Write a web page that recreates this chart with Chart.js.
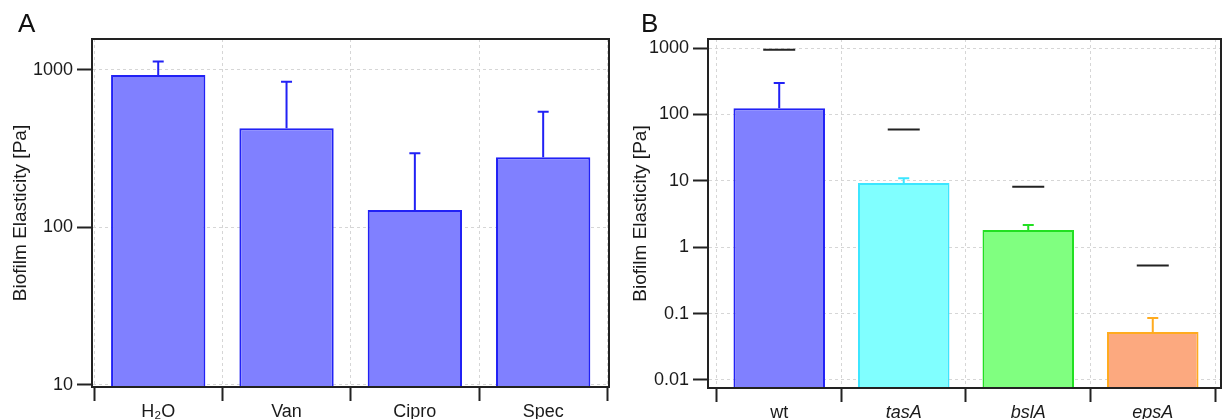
<!DOCTYPE html>
<html>
<head>
<meta charset="utf-8">
<title>Biofilm Elasticity</title>
<script src="https://cdn.jsdelivr.net/npm/chart.js@4.4.1/dist/chart.umd.min.js"></script>
<style>
  body { margin: 0; background: #fff; }
  #wrap { position: relative; width: 1222px; height: 419px; overflow: hidden; }
  .panel { position: absolute; top: 0; }
  .tag { position: absolute; top: 10px; font: 26px 'Liberation Sans', Arial, sans-serif; line-height: 1; color: #111; }
</style>
</head>
<body>
<div id="wrap">
  <canvas id="chartA" class="panel" style="left:0" width="615" height="419"></canvas>
  <canvas id="chartB" class="panel" style="left:615px" width="607" height="419"></canvas>
  <div class="tag" style="left:18px">A</div>
  <div class="tag" style="left:641px">B</div>
</div>
<script>
// panel A - antibiotic treatments
const labelsA = ['H\u2082O', 'Van', 'Cipro', 'Spec'];
const elasticityA = [930, 427, 129, 279];
const errorTopA = [1134, 842, 296, 542];
const yTicksA = [10, 100, 1000];

// panel B - mutants
const labelsB = ['wt', 'tasA', 'bslA', 'epsA'];
const elasticityB = [124, 9.3, 1.82, 0.0526];
const errorTopB = [297, 10.9, 2.16, 0.0855];
const markerB = [940, 59, 8.1, 0.53];   // black dashes above the bars
const yTicksB = [0.01, 0.1, 1, 10, 100, 1000];

const fillA = ['#8080ff', '#8080ff', '#8080ff', '#8080ff'];
const edgeA = ['#2121f5', '#2121f5', '#2121f5', '#2121f5'];
const fillB = ['#8080ff', '#80ffff', '#80ff80', '#fca97f'];
const edgeB = ['#2121f5', '#3ce6ff', '#22e022', '#ffab1f'];

Chart.defaults.font.family = "'Liberation Sans', Arial, sans-serif";
Chart.defaults.font.size = 18;
Chart.defaults.color = '#1a1a1a';

const GRID = '#d6d6d6';
const INK = '#222';

// error bars (upper half only) drawn through the chart scales
function errorBarPlugin(tops, colors) {
    return {
        id: 'errorBars',
        afterDatasetsDraw(chart) {
            const { ctx, scales: { x, y } } = chart;
            const bars = chart.data.datasets[0].data;
            ctx.save();
            ctx.lineWidth = 2;
            tops.forEach((top, i) => {
                const px = x.getPixelForValue(bars[i].x);
                const y0 = y.getPixelForValue(bars[i].y);
                const y1 = y.getPixelForValue(top);
                ctx.strokeStyle = colors[i];
                ctx.beginPath();
                ctx.moveTo(px, y0); ctx.lineTo(px, y1);
                ctx.moveTo(px - 5.5, y1); ctx.lineTo(px + 5.5, y1);
                ctx.stroke();
            });
            ctx.restore();
        }
    };
}

// closed box round the plot area
const framePlugin = {
    id: 'frame',
    afterDraw(chart) {
        const { ctx, chartArea: a } = chart;
        ctx.save();
        ctx.strokeStyle = INK;
        ctx.lineWidth = 2;
        ctx.strokeRect(a.left, a.top, a.right - a.left, a.bottom - a.top);
        ctx.restore();
    }
};

function isCenter(c) {
    return c.tick && Number.isInteger(c.tick.value);
}

function buildChart(id, p) {
    const barData = p.labels.map((_, i) => ({ x: i, y: p.values[i] }));
    const datasets = [{
        type: 'bar',
        data: barData,
        backgroundColor: p.fill,
        borderColor: p.edge,
        borderWidth: 2,
        borderSkipped: 'bottom',
        // the ruler uses the half-step ticks, so one category = 2 steps
        categoryPercentage: 2,
        barPercentage: 0.735
    }];
    if (p.markers) {
        datasets.push({
            type: 'line',
            data: p.markers.map((v, i) => ({ x: i, y: v })),
            showLine: false,
            pointStyle: 'line',
            pointRadius: 16,
            pointBorderWidth: 2,
            borderColor: INK,
            pointBorderColor: INK
        });
    }

    // boundaries between categories carry the grid lines and ticks, centers carry the labels
    const xTicks = [];
    for (let i = -0.5; i <= p.labels.length - 0.5; i += 0.5) xTicks.push(i);

    return new Chart(document.getElementById(id).getContext('2d'), {
        type: 'bar',
        data: { datasets },
        options: {
            responsive: false,
            animation: false,
            events: [],
            layout: { padding: p.padding, autoPadding: false },
            plugins: { legend: { display: false }, tooltip: { enabled: false } },
            scales: {
                x: {
                    type: 'linear',
                    offset: false,
                    min: p.xMin,
                    max: p.xMax,
                    afterBuildTicks: s => { s.ticks = xTicks.map(v => ({ value: v })); },
                    afterFit: s => { s.height = p.xHeight; },
                    grid: {
                        offset: false,
                        color: c => isCenter(c) ? 'rgba(0,0,0,0)' : GRID,
                        tickColor: c => isCenter(c) ? 'rgba(0,0,0,0)' : INK,
                        tickWidth: 2,
                        tickLength: 14,
                        tickBorderDash: []
                    },
                    border: { color: INK, width: 2, dash: [3, 3] },
                    ticks: {
                        autoSkip: false,
                        maxRotation: 0,
                        padding: 0,
                        color: '#1a1a1a',
                        font: c => ({
                            size: 18,
                            style: (p.italicFrom !== undefined && isCenter(c) && c.tick.value >= p.italicFrom) ? 'italic' : 'normal'
                        }),
                        callback: v => Number.isInteger(v) ? p.labels[v] : ''
                    }
                },
                y: {
                    type: 'logarithmic',
                    min: p.yMin,
                    max: p.yMax,
                    afterBuildTicks: s => { s.ticks = p.yTicks.map(v => ({ value: v })); },
                    afterFit: s => { s.width = p.yWidth; },
                    grid: {
                        color: GRID,
                        tickColor: INK,
                        tickWidth: 2,
                        tickLength: 15,
                        tickBorderDash: []
                    },
                    border: { color: INK, width: 2, dash: [3, 3] },
                    ticks: { padding: 4, callback: v => String(v) },
                    title: {
                        display: true,
                        text: 'Biofilm Elasticity [Pa]',
                        font: { size: 19 },
                        padding: 0
                    }
                }
            }
        },
        plugins: [errorBarPlugin(p.errTops, p.edge), framePlugin]
    });
}

document.addEventListener('DOMContentLoaded', () => {
    buildChart('chartA', {
        labels: labelsA, values: elasticityA, errTops: errorTopA,
        fill: fillA, edge: edgeA, yTicks: yTicksA,
        yMin: 9.67, yMax: 1574, xMin: -0.516, xMax: 3.513,
        padding: { top: 39, right: 6, left: 9, bottom: 0 },
        yWidth: 83, xHeight: 32
    });
    buildChart('chartB', {
        labels: labelsB, values: elasticityB, errTops: errorTopB, markers: markerB,
        fill: fillB, edge: edgeB, yTicks: yTicksB, italicFrom: 1,
        yMin: 0.00757, yMax: 1367, xMin: -0.572, xMax: 3.548,
        padding: { top: 39, right: 1, left: 14, bottom: 0 },
        yWidth: 79, xHeight: 31
    });
});
</script>
</body>
</html>
